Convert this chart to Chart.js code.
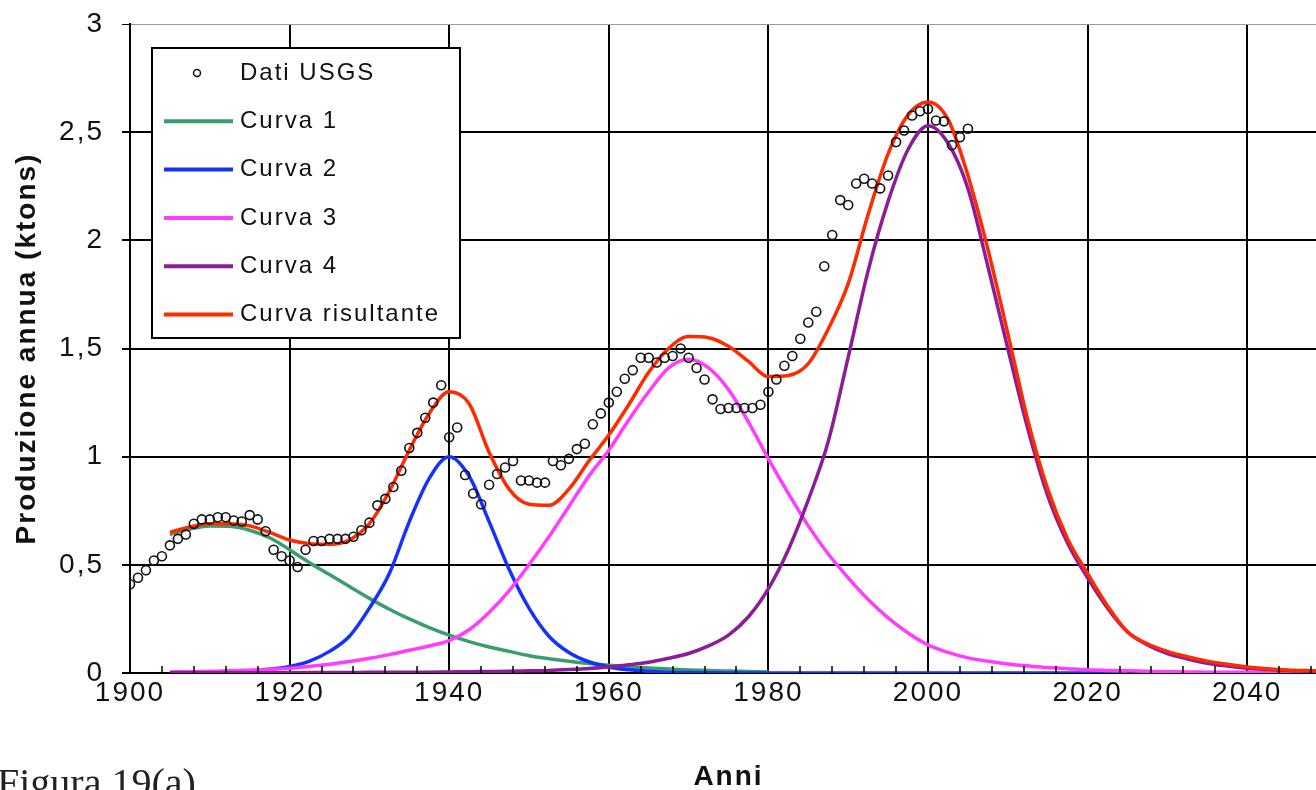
<!DOCTYPE html>
<html>
<head>
<meta charset="utf-8">
<script src="https://cdn.jsdelivr.net/npm/chart.js@4.4.1/dist/chart.umd.min.js"></script>
<style>
  html, body { margin: 0; padding: 0; background: #fff; overflow: hidden; }
  #wrap { position: relative; width: 1316px; height: 790px; overflow: hidden; }
  #chart { position: absolute; left: 0; top: 0; }
  #caption { position: absolute; left: -3px; top: 759px; font: 40px "Liberation Serif", serif; color: #222; white-space: nowrap; }
</style>
</head>
<body>
<div id="wrap">
  <canvas id="chart" width="1345" height="790"></canvas>
  <div id="caption">Figura 19(a)</div>
</div>
<script>
// USGS yearly production (ktons), one value per year from 1900
const usgsFirstYear = 1900;
const usgsValues = [
  0.41, 0.44, 0.475, 0.52, 0.54, 0.59, 0.62, 0.64, 0.69, 0.71,
  0.71, 0.72, 0.72, 0.705, 0.70, 0.73, 0.71, 0.655, 0.57, 0.54,
  0.52, 0.49, 0.57, 0.61, 0.61, 0.62, 0.62, 0.62, 0.63, 0.66,
  0.695, 0.775, 0.805, 0.86, 0.935, 1.04, 1.11, 1.18, 1.25, 1.33,
  1.09, 1.135, 0.915, 0.83, 0.78, 0.87, 0.92, 0.95, 0.98, 0.89,
  0.89, 0.88, 0.88, 0.98, 0.96, 0.99, 1.035, 1.06, 1.15, 1.20,
  1.25, 1.30, 1.36, 1.40, 1.457, 1.457, 1.435, 1.457, 1.465, 1.50,
  1.457, 1.41, 1.357, 1.265, 1.22, 1.225, 1.225, 1.225, 1.225, 1.24,
  1.30, 1.357, 1.42, 1.465, 1.545, 1.62, 1.67, 1.88, 2.025, 2.186,
  2.163, 2.263, 2.285, 2.263, 2.24, 2.30, 2.454, 2.508, 2.577, 2.597,
  2.607, 2.554, 2.55, 2.44, 2.477, 2.516
];

// fitted curves, sampled every 2.5 years
const fitYears = [
  1905, 1907.5, 1910, 1912.5, 1915, 1917.5, 1920, 1922.5, 1925, 1927.5,
  1930, 1932.5, 1935, 1937.5, 1940, 1942.5, 1945, 1947.5, 1950, 1952.5,
  1955, 1957.5, 1960, 1962.5, 1965, 1967.5, 1970, 1972.5, 1975, 1977.5,
  1980, 1982.5, 1985, 1987.5, 1990, 1992.5, 1995, 1997.5, 2000, 2002.5,
  2005, 2007.5, 2010, 2012.5, 2015, 2017.5, 2020, 2022.5, 2025, 2027.5,
  2030, 2032.5, 2035, 2037.5, 2040, 2042.5, 2045, 2047.5, 2050
];
const curve1 = [
  0.64, 0.665, 0.68, 0.678, 0.66, 0.625, 0.57, 0.51, 0.455, 0.40,
  0.345, 0.295, 0.25, 0.21, 0.175, 0.145, 0.12, 0.10, 0.08, 0.066,
  0.054, 0.044, 0.036, 0.029, 0.023, 0.018, 0.014, 0.011, 0.009, 0.007,
  0.005, null, null, null, null, null, null, null, null, null,
  null, null, null, null, null, null, null, null, null, null,
  null, null, null, null, null, null, null, null, null
];
const curve2 = [
  null, null, null, 0.005, 0.01, 0.017, 0.03, 0.055, 0.10, 0.17,
  0.30, 0.46, 0.70, 0.90, 1.0, 0.91, 0.70, 0.48, 0.30, 0.17,
  0.095, 0.052, 0.028, 0.015, 0.008, 0.004, 0.002, 0.001, 0, 0,
  0, 0, 0, 0, 0, 0, 0, 0, 0, 0,
  0, 0, 0, 0, 0, 0, 0, 0, 0, null,
  null, null, null, null, null, null, null, null, null
];
const curve3 = [
  0.005, 0.006, 0.008, 0.01, 0.013, 0.017, 0.022, 0.03, 0.04, 0.053,
  0.068, 0.085, 0.105, 0.125, 0.15, 0.20, 0.28, 0.38, 0.50, 0.63,
  0.77, 0.91, 1.03, 1.17, 1.30, 1.41, 1.45, 1.41, 1.31, 1.16,
  0.99, 0.83, 0.68, 0.55, 0.44, 0.34, 0.255, 0.185, 0.13, 0.095,
  0.07, 0.054, 0.042, 0.033, 0.025, 0.02, 0.015, 0.012, 0.01, 0.008,
  0.006, 0.005, 0.004, 0.003, 0.003, 0.002, 0.002, 0.001, 0.001
];
const curve4 = [
  0.001, 0.001, 0.001, 0.001, 0.001, 0.001, 0.001, 0.002, 0.002, 0.002,
  0.003, 0.003, 0.004, 0.004, 0.005, 0.006, 0.007, 0.008, 0.01, 0.012,
  0.016, 0.021, 0.028, 0.038, 0.05, 0.068, 0.09, 0.125, 0.175, 0.26,
  0.39, 0.57, 0.80, 1.07, 1.46, 1.86, 2.18, 2.42, 2.53, 2.45,
  2.24, 1.88, 1.50, 1.13, 0.82, 0.60, 0.44, 0.30, 0.19, 0.13,
  0.09, 0.065, 0.045, 0.032, 0.022, 0.016, 0.011, 0.008, 0.006
];
const curveTotal = [
  0.65, 0.675, 0.69, 0.69, 0.68, 0.65, 0.615, 0.598, 0.595, 0.615,
  0.69, 0.84, 1.03, 1.20, 1.30, 1.245, 1.02, 0.85, 0.78, 0.775,
  0.85, 0.98, 1.10, 1.24, 1.39, 1.50, 1.555, 1.55, 1.51, 1.44,
  1.37, 1.375, 1.43, 1.59, 1.80, 2.12, 2.40, 2.58, 2.64, 2.56,
  2.30, 1.96, 1.57, 1.17, 0.85, 0.62, 0.46, 0.31, 0.19, 0.135,
  0.10, 0.075, 0.055, 0.04, 0.028, 0.02, 0.014, 0.011, 0.009
];

const yearTicks = [1900, 1920, 1940, 1960, 1980, 2000, 2020, 2040];
const legendLabels = ['Dati USGS', 'Curva 1', 'Curva 2', 'Curva 3', 'Curva 4', 'Curva risultante'];
const colors = ['#111111', '#3a9d6c', '#1432ff', '#ff3cff', '#8b1d97', '#ff2a00'];

const AXIS_FONT = 'Liberation Sans, Arial, sans-serif';

function xy(values, years) {
  return values.map((v, i) => ({ x: years[i], y: v }));
}

function curveDataset(label, values, color, order) {
  return {
    label: label,
    data: xy(values, fitYears),
    showLine: true,
    borderColor: color,
    borderWidth: 3.5,
    pointRadius: 0,
    fill: false,
    spanGaps: false,
    cubicInterpolationMode: 'monotone',
    order: order
  };
}

// the axis text is set a little wide
const wideText = {
  id: 'wideText',
  beforeUpdate(chart) { chart.ctx.letterSpacing = '2px'; },
  beforeDraw(chart) { chart.ctx.letterSpacing = '2px'; }
};

// legend box drawn inside the plot, over the grid
const boxLegend = {
  id: 'boxLegend',
  afterDatasetsDraw(chart) {
    const ctx = chart.ctx;
    const left = 152, top = 48, width = 308, height = 290;
    ctx.save();
    ctx.fillStyle = '#fff';
    ctx.fillRect(left, top, width, height);
    ctx.strokeStyle = '#000';
    ctx.lineWidth = 2;
    ctx.strokeRect(left, top, width, height);

    ctx.font = '24px ' + AXIS_FONT;
    ctx.textBaseline = 'middle';
    ctx.fillStyle = '#111';
    ctx.letterSpacing = '2px';

    legendLabels.forEach((text, i) => {
      const y = 73 + i * 48.3;
      if (i === 0) {
        ctx.beginPath();
        ctx.arc(197, y, 3.5, 0, Math.PI * 2);
        ctx.strokeStyle = '#111';
        ctx.lineWidth = 1.5;
        ctx.stroke();
      } else {
        ctx.beginPath();
        ctx.moveTo(164, y);
        ctx.lineTo(233, y);
        ctx.strokeStyle = colors[i];
        ctx.lineWidth = 4;
        ctx.stroke();
      }
      ctx.fillText(text, 240, y);
    });
    ctx.restore();
  }
};

// small inward ticks every 4 years along the year axis
const minorTicks = {
  id: 'minorTicks',
  afterDatasetsDraw(chart) {
    const ctx = chart.ctx;
    const xs = chart.scales.x;
    const bottom = chart.chartArea.bottom;
    ctx.save();
    ctx.strokeStyle = '#000';
    ctx.lineWidth = 1.5;
    for (let yr = 1904; yr < 2050; yr += 4) {
      if (yr % 20 === 0) continue;
      const px = Math.round(xs.getPixelForValue(yr));
      ctx.beginPath();
      ctx.moveTo(px, bottom);
      ctx.lineTo(px, bottom - 7);
      ctx.stroke();
    }
    ctx.restore();
  }
};

const datasets = [
  {
    label: legendLabels[0],
    data: usgsValues.map((v, i) => ({ x: usgsFirstYear + i, y: v })),
    showLine: false,
    pointStyle: 'circle',
    pointRadius: 4.5,
    pointBorderWidth: 1.6,
    pointBorderColor: '#111',
    pointBackgroundColor: 'rgba(0,0,0,0)',
    order: 0
  },
  curveDataset(legendLabels[5], curveTotal, colors[5], 1),
  curveDataset(legendLabels[4], curve4, colors[4], 2),
  curveDataset(legendLabels[3], curve3, colors[3], 3),
  curveDataset(legendLabels[2], curve2, colors[2], 4),
  curveDataset(legendLabels[1], curve1, colors[1], 5)
];

new Chart(document.getElementById('chart'), {
  type: 'scatter',
  data: { datasets: datasets },
  plugins: [wideText, minorTicks, boxLegend],
  options: {
    responsive: false,
    animation: false,
    layout: { padding: { top: 24, right: 18, bottom: 0, left: 0 } },
    plugins: {
      legend: { display: false },
      tooltip: { enabled: false }
    },
    scales: {
      x: {
        type: 'linear',
        min: 1900,
        max: 2050,
        afterFit(scale) { scale.height = 117; },
        afterBuildTicks(scale) { scale.ticks = yearTicks.map(v => ({ value: v })); },
        ticks: {
          font: { family: AXIS_FONT, size: 28 },
          color: '#111',
          padding: 3,
          maxRotation: 0,
          callback: v => String(v)
        },
        grid: { color: '#000', lineWidth: 2, drawTicks: false },
        border: { color: '#000', width: 2 },
        title: {
          display: true,
          text: 'Anni',
          font: { family: AXIS_FONT, size: 28, weight: 'bold' },
          color: '#111',
          padding: { top: 0, bottom: -4 }
        }
      },
      y: {
        min: 0,
        max: 3,
        afterFit(scale) {
          scale.width = 130;
          scale.paddingTop = 0;
          scale.paddingBottom = 0;
        },
        ticks: {
          stepSize: 0.5,
          font: { family: AXIS_FONT, size: 28 },
          color: '#111',
          padding: 18,
          callback: v => String(v).replace('.', ',')
        },
        grid: {
          color: ctx => (ctx.tick && ctx.tick.value === 3 ? '#9a9a9a' : '#000'),
          lineWidth: ctx => (ctx.tick && ctx.tick.value === 3 ? 1 : 2),
          tickColor: '#000',
          tickLength: 8
        },
        border: { color: '#000', width: 2 },
        title: {
          display: true,
          text: 'Produzione annua (ktons)',
          font: { family: AXIS_FONT, size: 28, weight: 'bold' },
          color: '#111',
          padding: { top: 10, bottom: 0 }
        }
      }
    }
  }
});
</script>
</body>
</html>
